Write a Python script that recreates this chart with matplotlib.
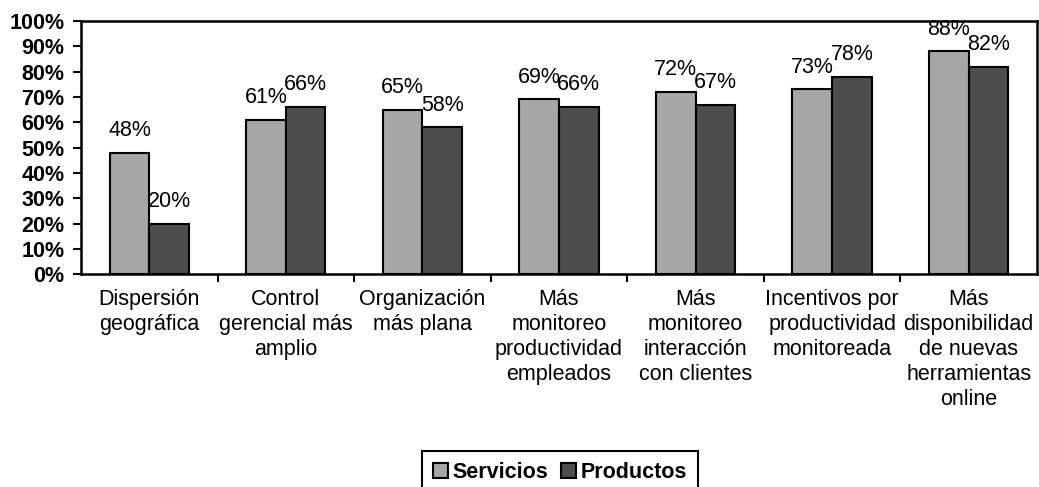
import numpy as np
import matplotlib.pyplot as plt
from matplotlib.ticker import FixedLocator, PercentFormatter

plt.rcParams['font.family'] = ['Liberation Sans', 'DejaVu Sans']

categorias = [
    'Dispersión\ngeográfica',
    'Control\ngerencial más\namplio',
    'Organización\nmás plana',
    'Más\nmonitoreo\nproductividad\nempleados',
    'Más\nmonitoreo\ninteracción\ncon clientes',
    'Incentivos por\nproductividad\nmonitoreada',
    'Más\ndisponibilidad\nde nuevas\nherramientas\nonline',
]
servicios = [48, 61, 65, 69, 72, 73, 88]
productos = [20, 66, 58, 66, 67, 78, 82]
series = ['Servicios', 'Productos']
colores = ['#a6a6a6', '#4d4d4d']

fs = 15.5

fig = plt.figure(figsize=(10.39, 4.87), dpi=100)
ax = fig.add_axes([0.078, 0.437, 0.92, 0.52])

x = np.arange(len(categorias))
w = 0.29
for i, (vals, nombre, col) in enumerate(zip([servicios, productos], series, colores)):
    pos = x + (i - 0.5) * w
    ax.bar(pos, vals, width=w, color=col, edgecolor='black', linewidth=1.5, label=nombre)
    for p, v in zip(pos, vals):
        ax.annotate(f'{v}%', (p, v), xytext=(0, 12), textcoords='offset points',
                    ha='center', va='baseline', fontsize=fs)

ax.set_xlim(-0.5, len(categorias) - 0.5)
ax.set_ylim(0, 100)
ax.set_yticks(np.arange(0, 101, 10))
ax.yaxis.set_major_formatter(PercentFormatter(decimals=0))
ax.tick_params(axis='y', direction='out', length=6, width=1.5, pad=6, labelsize=fs)
for lab in ax.get_yticklabels():
    lab.set_fontweight('bold')

ax.set_xticks(x)
ax.set_xticklabels(categorias, fontsize=fs, linespacing=1.25)
ax.tick_params(axis='x', which='major', length=0, pad=11)
ax.xaxis.set_minor_locator(FixedLocator(np.arange(0.5, len(categorias) - 1, 1)))
ax.tick_params(axis='x', which='minor', direction='out', length=6, width=1.5)

for s in ax.spines.values():
    s.set_linewidth(1.8)

fig.legend(loc='upper center', bbox_to_anchor=(0.539, 0.074), ncol=2, frameon=True,
           fancybox=False, edgecolor='black', framealpha=1,
           prop={'weight': 'bold', 'size': fs}, handlelength=0.7, handleheight=0.7,
           handletextpad=0.2, columnspacing=0.6, borderpad=0.5, borderaxespad=0)
fig.legends[0].get_frame().set_linewidth(1.5)

fig.savefig('out.png', dpi=100)
